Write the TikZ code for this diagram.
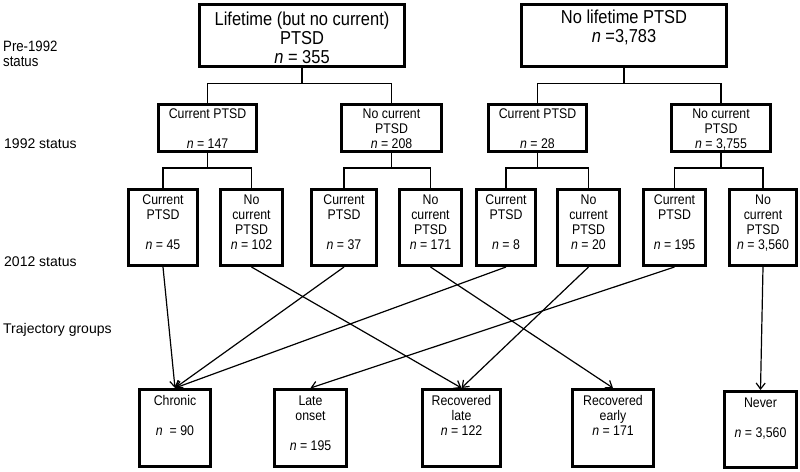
\documentclass[tikz,border=0pt]{standalone}
\usepackage{fontspec}
\setmainfont{Liberation Sans}
\newfontfamily\narrowfont{Liberation Sans}[FakeStretch=0.88]
\usetikzlibrary{positioning,arrows.meta}

\tikzset{
  box/.style={draw,line width=3pt,inner sep=0pt},
  bigtxt/.style={inner sep=0pt,align=center,font=\narrowfont\fontsize{18.7}{18.8}\selectfont},
  txt/.style={inner sep=0pt,align=center,font=\narrowfont\fontsize{14}{15}\selectfont},
  side/.style={inner sep=0pt,align=left,font=\fontsize{14}{14}\selectfont},
  link/.style={line width=1.2pt},
  arr/.style={line width=1.2pt,-{Straight Barb[length=6pt,width=9pt]}}
}
\newcommand{\nn}{\textit{n}}

\begin{document}
\begin{tikzpicture}[x=1pt,y=-1pt]
\useasboundingbox (0,0) rectangle (800,471);

% row labels
\node[side,anchor=north west,font=\narrowfont\fontsize{15}{15}\selectfont] (lpre) at (3,41) {Pre-1992\\status};
\node[side,anchor=base west] (l92) at (4,148.3) {1992 status};
\node[side,anchor=base west] (l12) at (4,266.5) {2012 status};
\node[side,anchor=base west] (ltr) at (3,333.3) {Trajectory groups};

% pre-1992
\node[box,minimum width=205pt,minimum height=62.6pt] (t1) at (302,35.5) {};
\node[bigtxt,below=9pt of t1.north] (t1t) {Lifetime (but no current)\\PTSD\\\nn{} = 355};
\node[box,minimum width=205pt,minimum height=62.6pt] (t2) at (624,35.5) {};
\node[bigtxt,below=7.2pt of t2.north] (t2t) {No lifetime PTSD\\\nn{} =3,783};

% 1992
\node[box,minimum width=98pt,minimum height=47pt] (m1) at (207.5,128) {};
\node[txt,below=6pt of m1.north] (m1t) {Current PTSD\\[15pt]\nn{} = 147};
\node[box,minimum width=100pt,minimum height=47pt] (m2) at (391.5,128) {};
\node[txt,below=6pt of m2.north] (m2t) {No current\\PTSD\\\nn{} = 208};
\node[box,minimum width=98pt,minimum height=47pt] (m3) at (537.5,128) {};
\node[txt,below=6pt of m3.north] (m3t) {Current PTSD\\[15pt]\nn{} = 28};
\node[box,minimum width=99pt,minimum height=47pt] (m4) at (721,128) {};
\node[txt,below=6pt of m4.north] (m4t) {No current\\PTSD\\\nn{} = 3,755};

% 2012
\node[box,minimum width=69pt,minimum height=76pt] (b1) at (163,227.5) {};
\node[txt,below=6.5pt of b1.north] (b1t) {Current\\PTSD\\[15pt]\nn{} = 45};
\node[box,minimum width=62pt,minimum height=76pt] (b2) at (251.5,227.5) {};
\node[txt,below=6.5pt of b2.north] (b2t) {No\\current\\PTSD\\\nn{} = 102};
\node[box,minimum width=65pt,minimum height=76pt] (b3) at (344,227.5) {};
\node[txt,below=6.5pt of b3.north] (b3t) {Current\\PTSD\\[15pt]\nn{} = 37};
\node[box,minimum width=62pt,minimum height=76pt] (b4) at (430.5,227.5) {};
\node[txt,below=6.5pt of b4.north] (b4t) {No\\current\\PTSD\\\nn{} = 171};
\node[box,minimum width=59pt,minimum height=76pt] (b5) at (506,227.5) {};
\node[txt,below=6.5pt of b5.north] (b5t) {Current\\PTSD\\[15pt]\nn{} = 8};
\node[box,minimum width=62pt,minimum height=76pt] (b6) at (588.5,227.5) {};
\node[txt,below=6.5pt of b6.north] (b6t) {No\\current\\PTSD\\\nn{} = 20};
\node[box,minimum width=62pt,minimum height=76pt] (b7) at (674.5,227.5) {};
\node[txt,below=6.5pt of b7.north] (b7t) {Current\\PTSD\\[15pt]\nn{} = 195};
\node[box,minimum width=67pt,minimum height=76pt] (b8) at (763,227.5) {};
\node[txt,below=6.5pt of b8.north] (b8t) {No\\current\\PTSD\\\nn{} = 3,560};

% trajectory groups
\node[box,minimum width=71pt,minimum height=77pt] (g1) at (175,428) {};
\node[txt,below=7.2pt of g1.north] (g1t) {Chronic\\[15pt]\nn{}~~= 90};
\node[box,minimum width=72pt,minimum height=77pt] (g2) at (310.5,428) {};
\node[txt,below=7.2pt of g2.north] (g2t) {Late\\onset\\[15pt]\nn{} = 195};
\node[box,minimum width=78pt,minimum height=77pt] (g3) at (461.5,428) {};
\node[txt,below=7.2pt of g3.north] (g3t) {Recovered\\late\\\nn{} = 122};
\node[box,minimum width=81pt,minimum height=77pt] (g4) at (613,428) {};
\node[txt,below=7.2pt of g4.north] (g4t) {Recovered\\early\\\nn{} = 171};
\node[box,minimum width=72pt,minimum height=76pt] (g5) at (760.5,429.5) {};
\node[txt,below=7.2pt of g5.north] (g5t) {Never\\[15pt]\nn{} = 3,560};

% tree links
\draw[link] (t1.south) -- ++(0,15) -| (m1.north);
\draw[link] (t1.south) -- ++(0,15) -| (m2.north);
\draw[link] (t2.south) -- ++(0,15) -| (m3.north);
\draw[link] (t2.south) -- ++(0,15) -| (m4.north);
\draw[link] (m1.south) -- ++(0,15) -| (b1.north);
\draw[link] (m1.south) -- ++(0,15) -| (b2.north);
\draw[link] (m2.south) -- ++(0,15) -| (b3.north);
\draw[link] (m2.south) -- ++(0,15) -| (b4.north);
\draw[link] (m3.south) -- ++(0,15) -| (b5.north);
\draw[link] (m3.south) -- ++(0,15) -| (b6.north);
\draw[link] (m4.south) -- ++(0,15) -| (b7.north);
\draw[link] (m4.south) -- ++(0,15) -| (b8.north);

% to trajectory groups
\draw[arr] (b1.south) -- (g1.north);
\draw[arr] (b2.south) -- (g3.north);
\draw[arr] (b3.south) -- (g1.north);
\draw[arr] (b4.south) -- (g4.north);
\draw[arr] (b5.south) -- (g1.north);
\draw[arr] (b6.south) -- (g3.north);
\draw[arr] (b7.south) -- (g2.north);
\draw[arr] (b8.south) -- (g5.north);
\end{tikzpicture}
\end{document}
